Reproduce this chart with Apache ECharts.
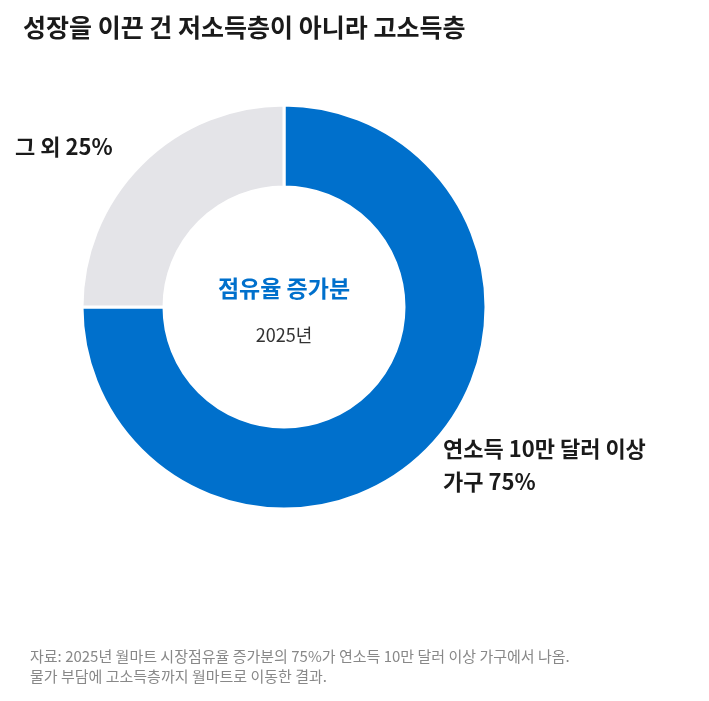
<!DOCTYPE html>
<html><head><meta charset="utf-8">
<script src="https://cdn.jsdelivr.net/npm/echarts@6/dist/echarts.min.js"></script>
<style>body{margin:0}#c{width:709px;height:701px}</style></head>
<body><div id="c"></div>
<script>
const categories = ['연소득 10만 달러 이상 가구', '그 외'];
const values = [75, 25];
const colors = ['#0070cc', '#e4e4e8'];
const F = '"Noto Sans CJK KR", sans-serif';

const chart = echarts.init(document.getElementById('c'));
chart.setOption({
  animation: false,
  title: {
    text: '성장을 이끈 건 저소득층이 아니라 고소득층',
    left: 18, top: 10,
    textStyle: { fontFamily: F, fontSize: 25, fontWeight: 'bold', color: '#1a1a1a' }
  },
  graphic: [
    { type: 'text', left: 15, top: 136, style: { text: '그 외 25%', font: 'bold 22px ' + F, fill: '#1a1a1a' } },
    { type: 'text', left: 443, top: 432, style: { text: '연소득 10만 달러 이상\n가구 75%', font: 'bold 22px ' + F, fill: '#1a1a1a', lineHeight: 33 } },
    { type: 'text', x: 284, y: 288, style: { text: '점유율 증가분', font: 'bold 23px ' + F, fill: '#0070cc', align: 'center', verticalAlign: 'middle' } },
    { type: 'text', x: 284, y: 335, style: { text: '2025년', font: '18px ' + F, fill: '#333', align: 'center', verticalAlign: 'middle' } },
    { type: 'text', left: 30, top: 646, style: { text: '자료: 2025년 월마트 시장점유율 증가분의 75%가 연소득 10만 달러 이상 가구에서 나옴.\n물가 부담에 고소득층까지 월마트로 이동한 결과.', font: '15px ' + F, fill: '#888', lineHeight: 20 } }
  ],
  series: [{
    type: 'pie',
    center: [284, 307],
    radius: [120, 202],
    startAngle: 90,
    clockwise: true,
    label: { show: false },
    labelLine: { show: false },
    itemStyle: { borderColor: '#fff', borderWidth: 3 },
    data: categories.map((n, i) => ({ name: n, value: values[i], itemStyle: { color: colors[i] } }))
  }]
});
</script></body></html>
